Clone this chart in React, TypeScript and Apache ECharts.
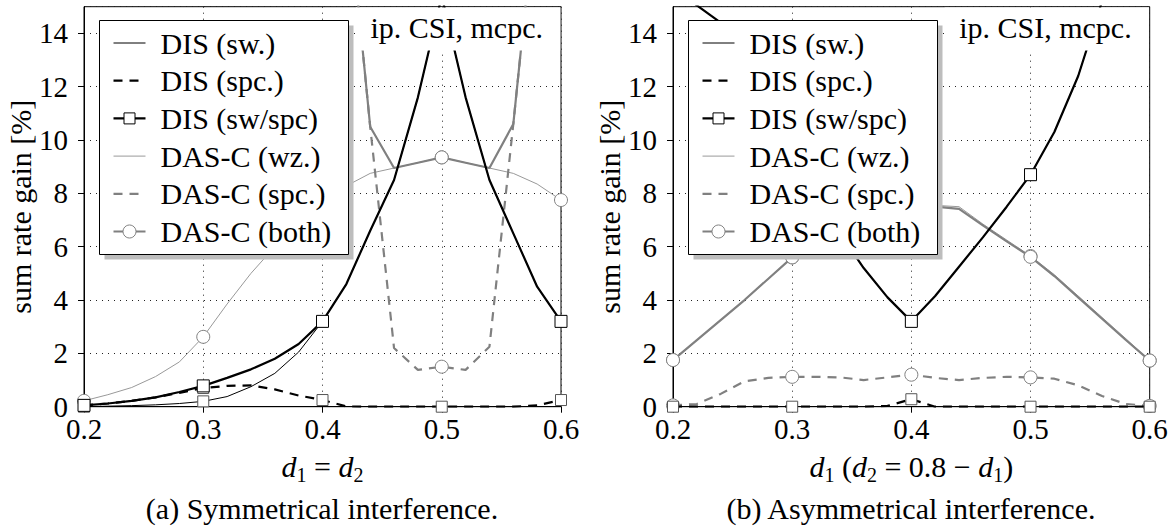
import React, { useEffect, useRef } from 'react';
import * as echarts from 'echarts';

// x positions d1 (step 0.02)
const xs = [0.2, 0.22, 0.24, 0.26, 0.28, 0.3, 0.32, 0.34, 0.36, 0.38, 0.4, 0.42, 0.44, 0.46, 0.48, 0.5, 0.52, 0.54, 0.56, 0.58, 0.6];

// (a) symmetrical interference
const symDisSw = [0.0, 0.02, 0.04, 0.07, 0.12, 0.2, 0.38, 0.75, 1.25, 2.05, 3.2, 4.6, 6.6, 8.5, 11.6, 15.4, 11.6, 8.5, 6.5, 4.5, 3.2];
const symDisSpc = [0.05, 0.12, 0.22, 0.35, 0.52, 0.7, 0.78, 0.8, 0.65, 0.42, 0.25, 0.01, 0, 0, 0, 0, 0, 0, 0, 0.05, 0.25];
const symDisBoth = [0.05, 0.12, 0.22, 0.35, 0.55, 0.78, 1.08, 1.4, 1.8, 2.35, 3.2, 4.6, 6.6, 8.5, 11.6, 15.4, 11.6, 8.5, 6.5, 4.5, 3.2];
const symDasWz = [0.22, 0.45, 0.72, 1.13, 1.68, 2.62, 3.85, 5.0, 6.0, 6.9, 7.7, 8.28, 8.75, 8.95, 9.15, 9.35, 9.15, 8.95, 8.75, 8.35, 7.75];
const symDasSpc = [40, 38, 36, 34, 32, 30, 29, 28, 27, 25, 23, 19.6, 10.5, 2.2, 1.38, 1.5, 1.38, 2.25, 10.6, 19.3, 28];
const symDasBoth = [40, 38, 36, 34, 32, 30, 29, 28, 27, 25, 23, 19.6, 10.5, 8.95, 9.15, 9.35, 9.15, 8.95, 10.6, 19.3, 28];

// (b) asymmetrical interference
const asymDisSw = [15.8, 15.05, 14.4, 12.9, 11.2, 9.6, 8.1, 6.5, 5.2, 4.1, 3.2, 4.15, 5.25, 6.35, 7.5, 8.7, 10.3, 12.4, 15.2, 18, 21];
const asymDisSpc = [0, 0, 0, 0, 0, 0, 0, 0, 0, 0.03, 0.28, 0, 0, 0, 0, 0, 0, 0, 0, 0, 0];
const asymDisBoth = [15.8, 15.05, 14.4, 12.9, 11.2, 9.6, 8.1, 6.5, 5.2, 4.1, 3.2, 4.15, 5.25, 6.35, 7.5, 8.7, 10.3, 12.4, 15.2, 18, 21];
const asymDasWz = [1.75, 2.5, 3.25, 4.0, 4.8, 5.6, 6.15, 6.65, 7.05, 7.3, 7.45, 7.55, 7.5, 6.85, 6.25, 5.65, 4.95, 4.15, 3.35, 2.55, 1.73];
const asymDasSpc = [0.05, 0.1, 0.48, 0.95, 1.08, 1.12, 1.12, 1.1, 1.0, 1.1, 1.2, 1.08, 1.0, 1.08, 1.12, 1.1, 1.05, 0.8, 0.4, 0.1, 0.03];
const asymDasBoth = [1.75, 2.5, 3.25, 4.0, 4.8, 5.6, 6.15, 6.65, 7.05, 7.3, 7.45, 7.5, 7.42, 6.8, 6.2, 5.62, 4.9, 4.1, 3.3, 2.5, 1.73];

const seriesNames = ['DIS (sw.)', 'DIS (spc.)', 'DIS (sw/spc)', 'DAS-C (wz.)', 'DAS-C (spc.)', 'DAS-C (both)'];
const captions = ['(a) Symmetrical interference.', '(b) Asymmetrical interference.'];
const cornerNote = 'ip. CSI, mcpc.';
const yName = 'sum rate gain [%]';

const FONT = 'Liberation Serif';
const FS = 30;
const TFS = 29;
const GFONT = '30px "Liberation Serif"';
const GRAY = '#808080';

type St = { color: string; width: number; dash: number[] | null; symbol: string; size: number; mk: string; z: number; legendMarker: boolean };
const styles: St[] = [
  { color: '#000', width: 1, dash: null, symbol: 'rect', size: 11, mk: '#555', z: 5, legendMarker: false },
  { color: '#000', width: 2.2, dash: [9, 7], symbol: 'rect', size: 11, mk: '#555', z: 6, legendMarker: false },
  { color: '#000', width: 2.2, dash: null, symbol: 'rect', size: 12, mk: '#000', z: 7, legendMarker: true },
  { color: '#999', width: 1, dash: null, symbol: 'circle', size: 13, mk: GRAY, z: 2, legendMarker: false },
  { color: GRAY, width: 2.2, dash: [9, 7], symbol: 'circle', size: 13, mk: GRAY, z: 3, legendMarker: false },
  { color: GRAY, width: 2.2, dash: null, symbol: 'circle', size: 13, mk: GRAY, z: 4, legendMarker: true },
];

const GRIDS = [
  { left: 84, top: 6.7, width: 477, height: 400 },
  { left: 673, top: 6.7, width: 476.7, height: 400 },
];

function makeSeries(name: string, vals: number[], gi: number, st: St) {
  return {
    type: 'line',
    name,
    xAxisIndex: gi,
    yAxisIndex: gi,
    data: xs.map((x, i) => ({ value: [x, vals[i]], symbol: i % 5 === 0 ? st.symbol : 'none' })),
    symbol: st.symbol,
    symbolSize: st.size,
    showSymbol: true,
    lineStyle: { color: st.color, width: st.width, type: st.dash || 'solid' },
    itemStyle: { color: '#fff', borderColor: st.mk, borderWidth: 1 },
    z: st.z,
    clip: true,
    silent: true,
    emphasis: { disabled: true },
  };
}

function legendGraphic(left: number, top: number) {
  const W = 249, H = 234;
  const children: any[] = [
    { type: 'rect', z: 100, shape: { x: 5, y: 5, width: W, height: H }, style: { fill: '#bdbdbd' } },
    { type: 'rect', z: 101, shape: { x: 0, y: 0, width: W, height: H }, style: { fill: '#fff', stroke: '#000', lineWidth: 1 } },
  ];
  seriesNames.forEach((n, i) => {
    const st = styles[i];
    const cy = 22.5 + i * 37.7;
    children.push({ type: 'line', z: 102, shape: { x1: 14, y1: cy, x2: 46, y2: cy }, style: { stroke: st.color, lineWidth: st.width, lineDash: st.dash || undefined } });
    if (st.legendMarker) {
      if (st.symbol === 'rect') {
        children.push({ type: 'rect', z: 103, shape: { x: 24.5, y: cy - 5.5, width: 11, height: 11 }, style: { fill: '#fff', stroke: '#000', lineWidth: 1 } });
      } else {
        children.push({ type: 'circle', z: 103, shape: { cx: 30, cy, r: 6.5 }, style: { fill: '#fff', stroke: GRAY, lineWidth: 1 } });
      }
    }
    children.push({ type: 'text', z: 103, x: 61, y: cy, style: { text: n, font: GFONT, fill: '#000', verticalAlign: 'middle', align: 'left' } });
  });
  return { type: 'group', x: left, y: top, z: 100, children };
}

function noteGraphic(gi: number) {
  const g = GRIDS[gi];
  const right = g.left + g.width;
  return [
    { type: 'rect', z: 90, shape: { x: right - 205, y: g.top + 0.8, width: 204.2, height: 43 }, style: { fill: '#fff' } },
    { type: 'text', z: 91, x: right - 18, y: 27, style: { text: cornerNote, font: GFONT, fill: '#000', align: 'right', verticalAlign: 'middle' } },
  ];
}

const richName = {
  i: { fontStyle: 'italic', fontFamily: FONT, fontSize: FS, lineHeight: 36, color: '#000' },
  s: { fontFamily: FONT, fontSize: 20, lineHeight: 19, verticalAlign: 'bottom', color: '#000' },
};

function xAxisOpt(gi: number, name: string) {
  return {
    type: 'value',
    gridIndex: gi,
    min: 0.2,
    max: 0.6,
    interval: 0.1,
    name,
    nameLocation: 'middle',
    nameGap: 42,
    nameTextStyle: { fontFamily: FONT, fontSize: FS, color: '#000', lineHeight: 36, rich: richName },
    axisLine: { show: true, onZero: false, lineStyle: { color: '#000', width: 1 } },
    axisTick: { show: true, length: 6, lineStyle: { color: '#000', width: 1 } },
    axisLabel: { margin: 10, fontFamily: FONT, fontSize: TFS, lineHeight: 24, color: '#000', formatter: (v: number) => v.toFixed(1) },
    splitLine: { show: true, lineStyle: { color: '#222', width: 1, type: [1, 5] } },
  };
}

function yAxisOpt(gi: number) {
  return {
    type: 'value',
    gridIndex: gi,
    min: 0,
    max: 15,
    interval: 2,
    name: yName,
    nameLocation: 'middle',
    nameRotate: 90,
    nameGap: 44,
    nameTextStyle: { fontFamily: FONT, fontSize: FS, color: '#000' },
    axisLine: { show: true, lineStyle: { color: '#000', width: 1 } },
    axisTick: { show: true, length: 6, lineStyle: { color: '#000', width: 1 } },
    axisLabel: { margin: 16, fontFamily: FONT, fontSize: TFS, lineHeight: 24, color: '#000', showMaxLabel: false },
    splitLine: { show: true, lineStyle: { color: '#222', width: 1, type: [1, 5] } },
  };
}

export default function App() {
  const ref = useRef<HTMLDivElement>(null);
  useEffect(() => {
    if (!ref.current) return;
    const chart = echarts.init(ref.current, undefined, { renderer: 'svg' });
    const sym = [symDisSw, symDisSpc, symDisBoth, symDasWz, symDasSpc, symDasBoth];
    const asym = [asymDisSw, asymDisSpc, asymDisBoth, asymDasWz, asymDasSpc, asymDasBoth];
    const series: any[] = [];
    seriesNames.forEach((n, i) => series.push(makeSeries(n, sym[i], 0, styles[i])));
    seriesNames.forEach((n, i) => series.push(makeSeries(n, asym[i], 1, styles[i])));
    chart.setOption({
      animation: false,
      backgroundColor: '#fff',
      grid: GRIDS.map((g) => ({ ...g, show: true, borderColor: '#000', borderWidth: 1, backgroundColor: 'transparent', containLabel: false })),
      xAxis: [
        xAxisOpt(0, '{i|d}{s|1} = {i|d}{s|2}'),
        xAxisOpt(1, '{i|d}{s|1} ({i|d}{s|2} = 0.8 − {i|d}{s|1})'),
      ],
      yAxis: [yAxisOpt(0), yAxisOpt(1)],
      series,
      graphic: [
        ...noteGraphic(0),
        ...noteGraphic(1),
        legendGraphic(99.5, 20.5),
        legendGraphic(688.5, 20.5),
        { type: 'text', z: 50, x: 322, y: 508, style: { text: captions[0], font: GFONT, fill: '#000', align: 'center', verticalAlign: 'middle' } },
        { type: 'text', z: 50, x: 911, y: 508, style: { text: captions[1], font: GFONT, fill: '#000', align: 'center', verticalAlign: 'middle' } },
      ],
    });
    return () => chart.dispose();
  }, []);
  return <div ref={ref} style={{ position: 'fixed', left: 0, top: 0, width: 1172, height: 527, background: '#fff' }} />;
}
